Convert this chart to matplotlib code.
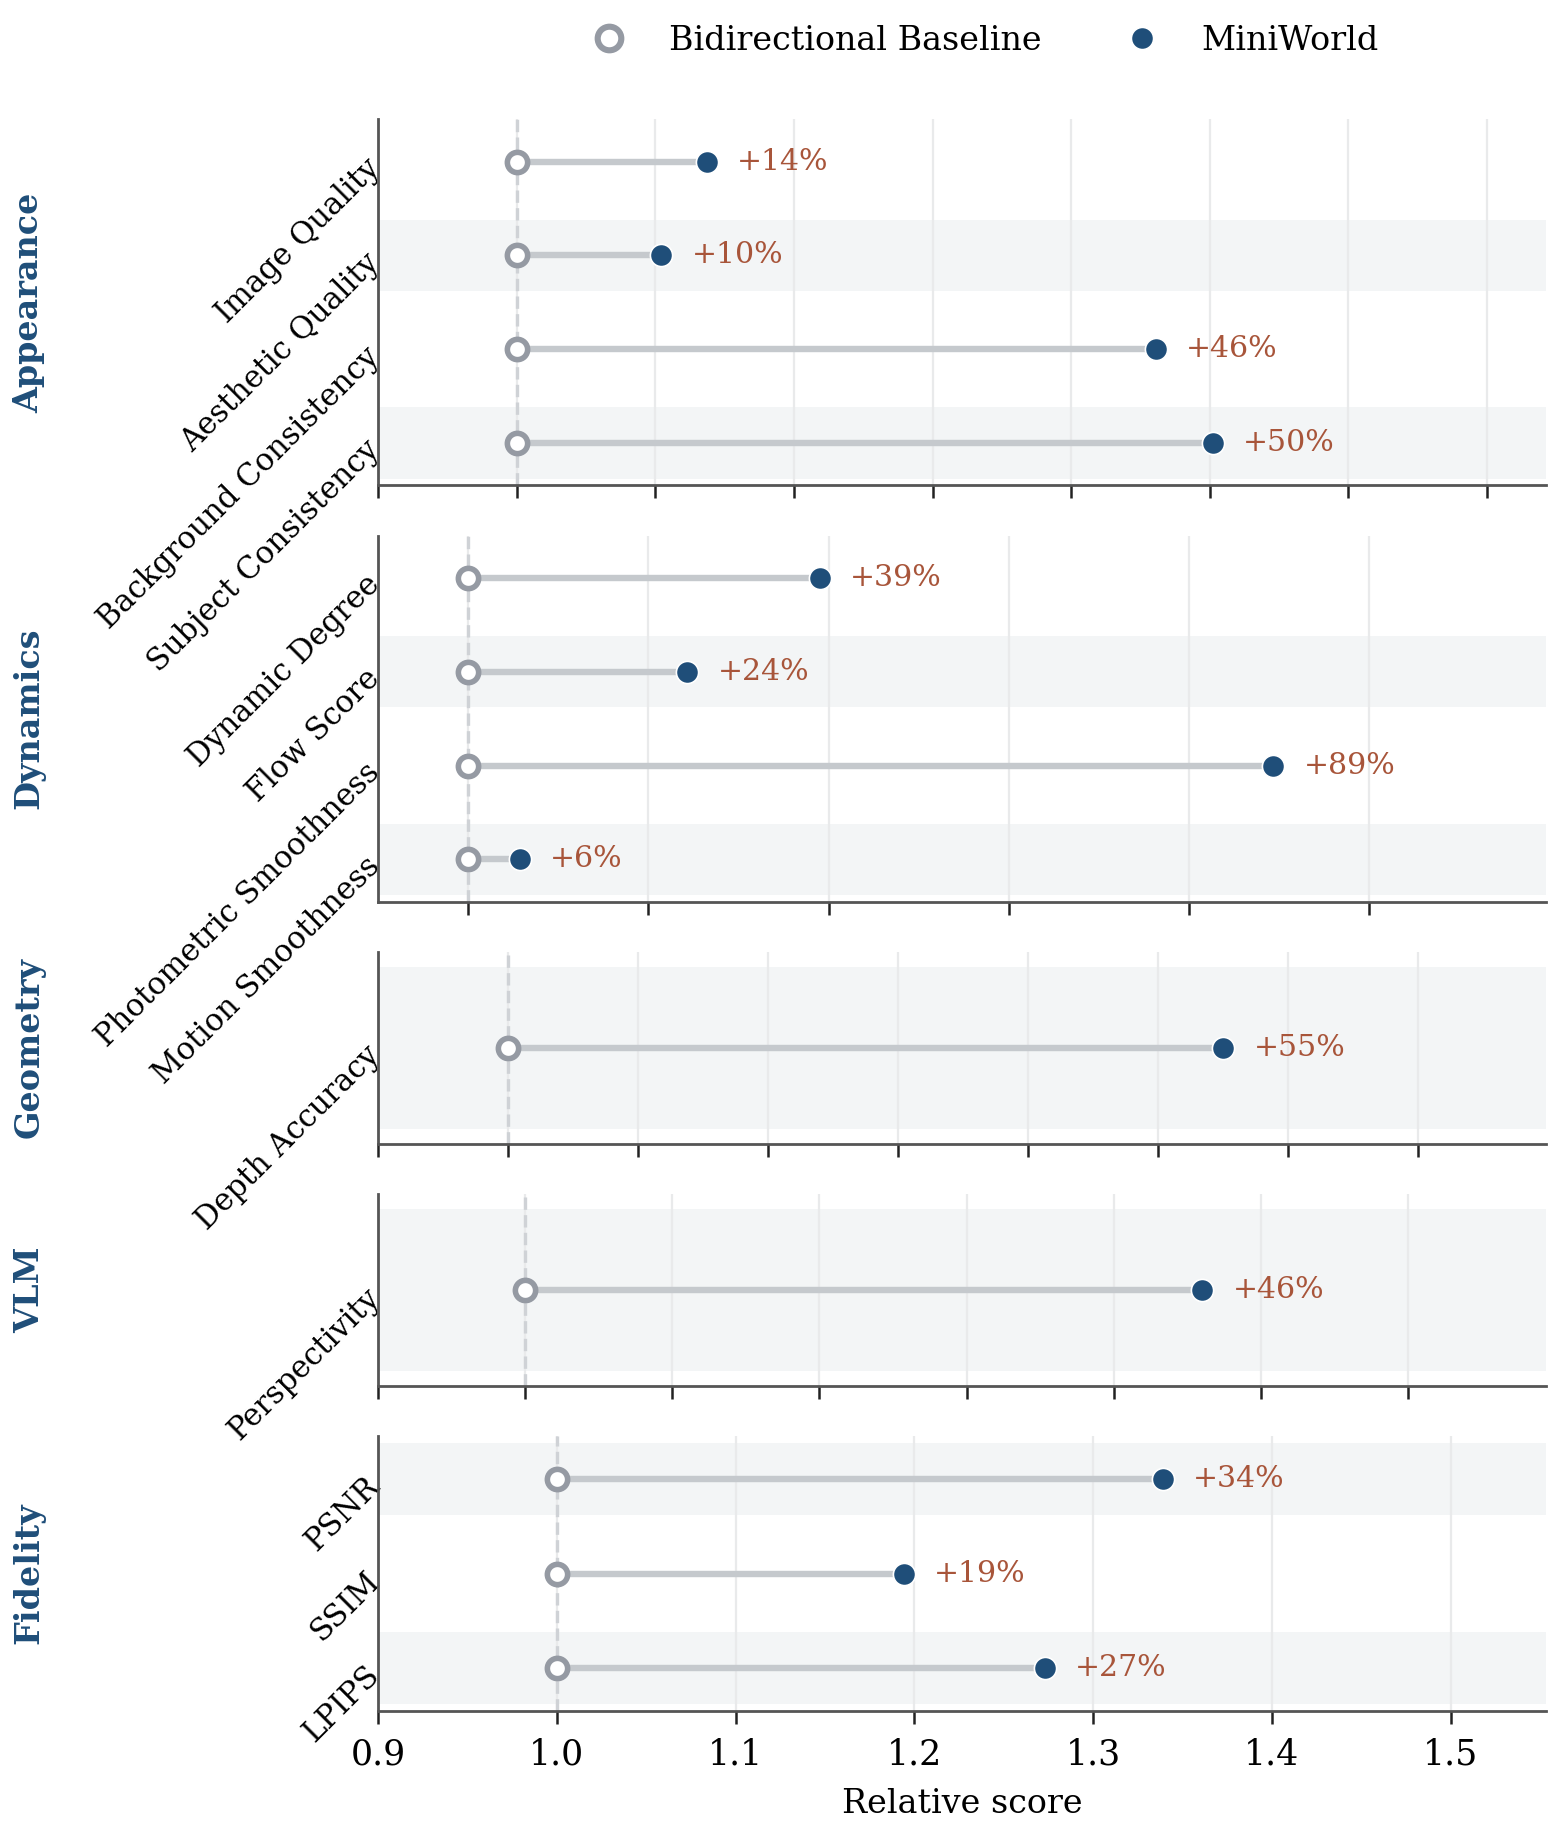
import matplotlib
matplotlib.use("Agg")
import matplotlib.pyplot as plt
from matplotlib.ticker import MultipleLocator
from matplotlib.lines import Line2D

plt.rcParams["font.family"] = ["DejaVu Serif"]

# ---------------- data ----------------
groups = ["Appearance", "Dynamics", "Geometry", "VLM", "Fidelity"]

appearance_metrics = ["Image Quality", "Aesthetic Quality",
                      "Background Consistency", "Subject Consistency"]
appearance_baseline = [1.0, 1.0, 1.0, 1.0]
appearance_miniworld = [1.137, 1.104, 1.461, 1.502]

dynamics_metrics = ["Dynamic Degree", "Flow Score",
                    "Photometric Smoothness", "Motion Smoothness"]
dynamics_baseline = [1.0, 1.0, 1.0, 1.0]
dynamics_miniworld = [1.390, 1.243, 1.893, 1.057]

geometry_metrics = ["Depth Accuracy"]
geometry_baseline = [1.0]
geometry_miniworld = [1.550]

vlm_metrics = ["Perspectivity"]
vlm_baseline = [1.0]
vlm_miniworld = [1.460]

fidelity_metrics = ["PSNR", "SSIM", "LPIPS"]
fidelity_baseline = [1.0, 1.0, 1.0]
fidelity_miniworld = [1.339, 1.194, 1.273]

panels = [
    (appearance_metrics, appearance_baseline, appearance_miniworld),
    (dynamics_metrics, dynamics_baseline, dynamics_miniworld),
    (geometry_metrics, geometry_baseline, geometry_miniworld),
    (vlm_metrics, vlm_baseline, vlm_miniworld),
    (fidelity_metrics, fidelity_baseline, fidelity_miniworld),
]

# ---------------- style ----------------
NAVY = "#1f4e79"
BASE_EDGE = "#959aa3"
CONNECT = "#c5c9cd"
PCT = "#a8553a"
BAND = "#f3f5f6"
GRID = "#e9eaeb"
VLINE = "#cfd2d6"
SPINE = "#555555"

fig = plt.figure(figsize=(1559 / 200, 1835 / 200), dpi=200)
ratios = [max(len(p[0]), 2.1) for p in panels]
gs = fig.add_gridspec(len(panels), 1, height_ratios=ratios,
                      left=0.2425, right=0.9915, top=0.935, bottom=0.0676,
                      hspace=0.18)

for k, (name, (metrics, base, mini)) in enumerate(zip(groups, panels)):
    ax = fig.add_subplot(gs[k])
    n = len(metrics)
    ys = [n - 1 - i for i in range(n)]

    hi = max(mini) * 1.16
    ax.set_xlim(0.9, hi)
    ax.set_ylim(-0.45, n - 0.55)
    step = 0.2 if (hi - 0.9) > 1.0 else 0.1
    ax.xaxis.set_major_locator(MultipleLocator(step))

    for y in ys:
        if y % 2 == 0:
            ax.axhspan(y - 0.38, y + 0.38, color=BAND, zorder=0, lw=0)

    ax.grid(axis="x", color=GRID, lw=0.8, zorder=0.5)
    ax.set_axisbelow(True)
    ax.axvline(base[0], color=VLINE, ls="--", lw=1.2, zorder=1)

    for y, b, m in zip(ys, base, mini):
        ax.plot([b, m], [y, y], color=CONNECT, lw=2.3, zorder=2,
                solid_capstyle="butt")
        ax.plot([b], [y], marker="o", ms=7.3, mfc="white", mec=BASE_EDGE,
                mew=2.0, ls="none", zorder=4)
        ax.plot([m], [y], marker="o", ms=8.0, mfc=NAVY, mec="white",
                mew=0.6, ls="none", zorder=4)
        ax.annotate(f"+{(m / b - 1) * 100:.0f}%", xy=(m, y),
                    xytext=(11, 0), textcoords="offset points",
                    ha="left", va="center", color=PCT, fontsize=10.8)

    ax.set_yticks(ys)
    ax.set_yticklabels(metrics, rotation=45, ha="right",
                       rotation_mode="anchor", fontsize=11)
    ax.tick_params(axis="y", length=0, pad=2)
    ax.tick_params(axis="x", length=4.5, width=0.9, color="#222222")

    for s in ["top", "right"]:
        ax.spines[s].set_visible(False)
    for s in ["left", "bottom"]:
        ax.spines[s].set_color(SPINE)
        ax.spines[s].set_linewidth(1.0)

    if k == len(panels) - 1:
        ax.tick_params(axis="x", labelsize=12.5, pad=5)
        ax.set_xlabel("Relative score", fontsize=12, labelpad=6)
    else:
        ax.tick_params(axis="x", labelbottom=False)

    pos = ax.get_position()
    fig.text(0.0187, (pos.y0 + pos.y1) / 2, name, rotation=90,
             ha="center", va="center", fontsize=12, fontweight="bold",
             color=NAVY)

handles = [
    Line2D([], [], marker="o", ls="none", ms=8.5, mfc="white",
           mec=BASE_EDGE, mew=2.2),
    Line2D([], [], marker="o", ls="none", ms=8.0, mfc=NAVY, mec="white",
           mew=0.6),
]
fig.legend(handles, ["Bidirectional Baseline", "MiniWorld"], loc="center",
           bbox_to_anchor=(0.627, 0.9777), ncol=2, frameon=False,
           fontsize=12)

fig.savefig("out.png", dpi=200)
